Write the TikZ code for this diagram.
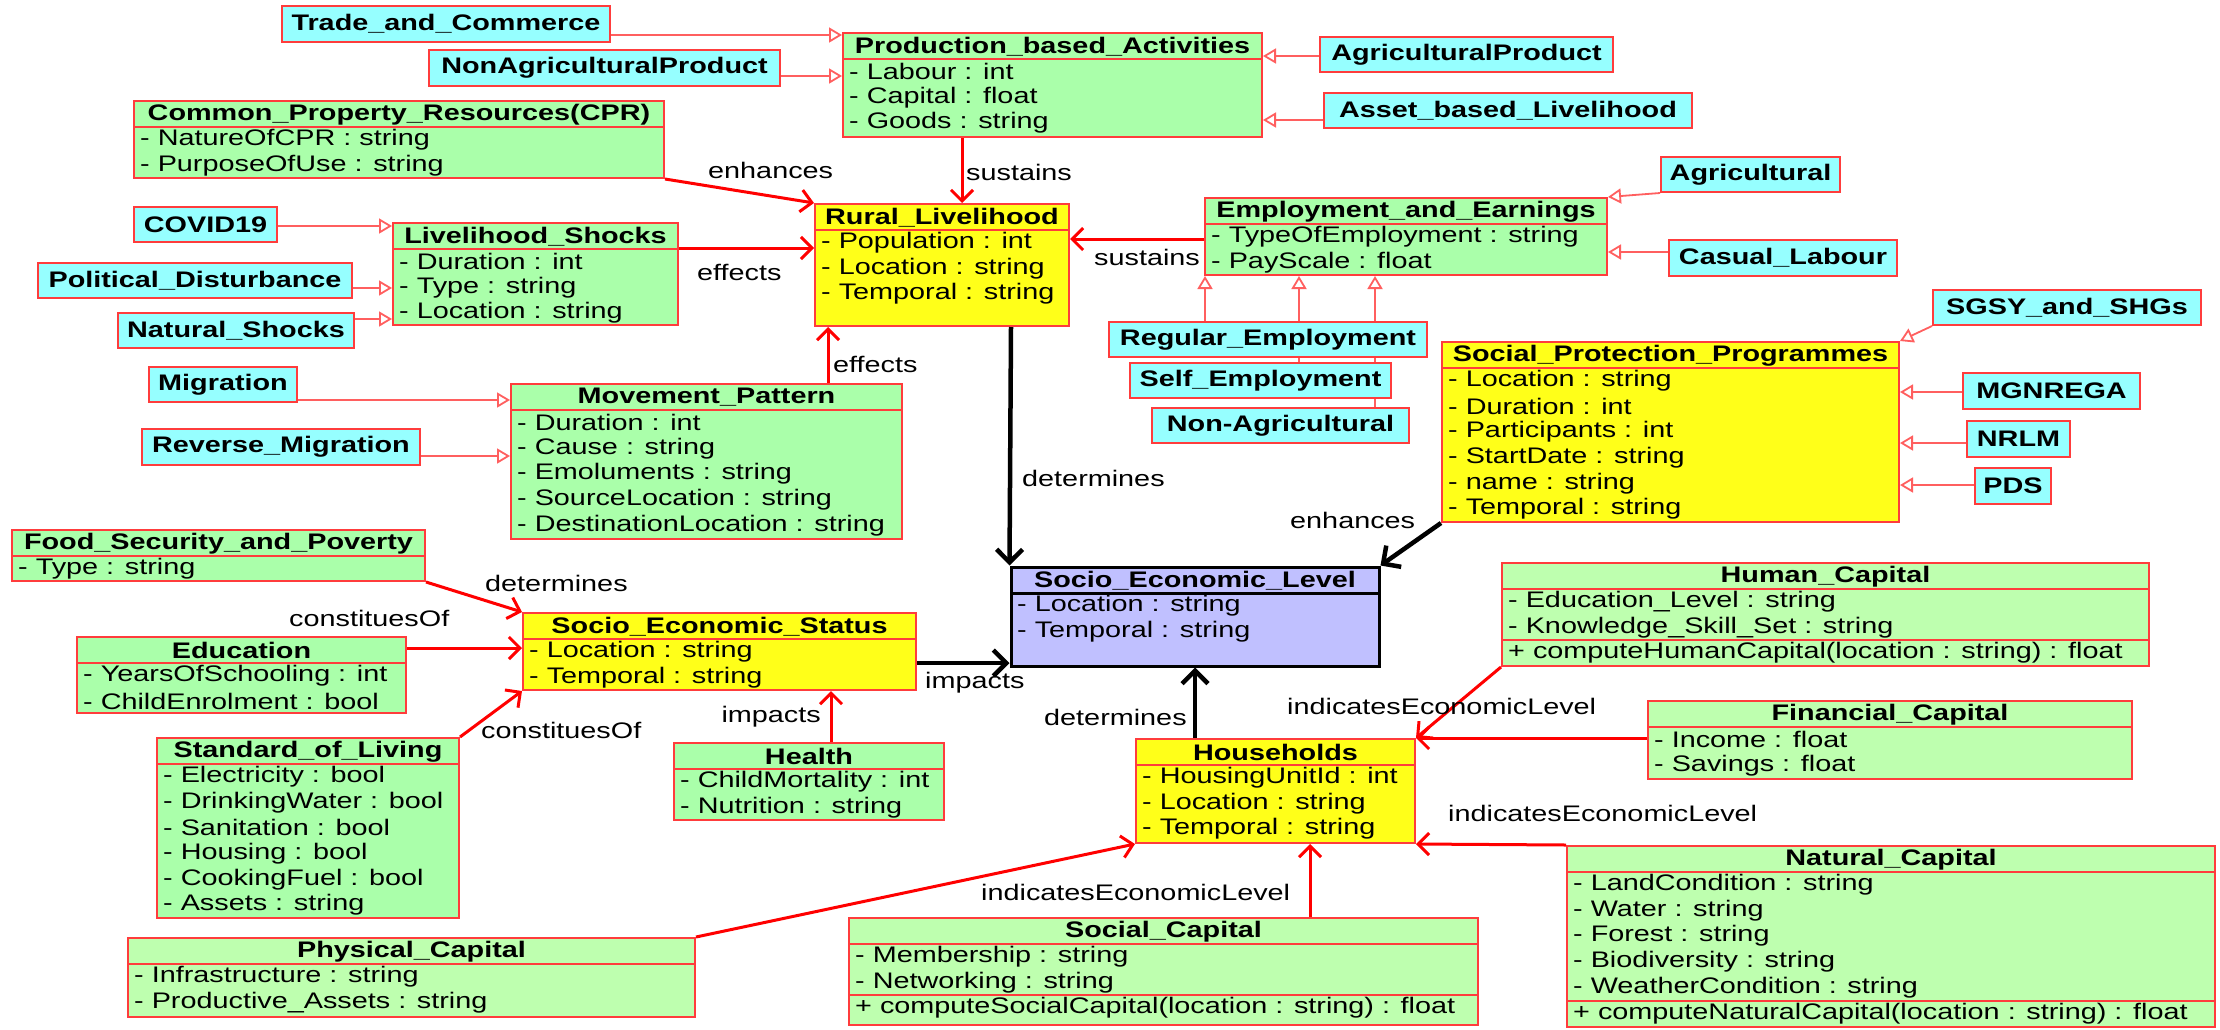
\documentclass[tikz,border=0pt]{standalone}
\usepackage{fontspec}
\setmainfont{Liberation Sans}[FakeStretch=1.28]
\usetikzlibrary{fit,arrows.meta}
\pgfdeclarelayer{paper}
\pgfdeclarelayer{under}
\pgfsetlayers{paper,under,main}

\definecolor{clsgreen}{RGB}{170,255,170}
\definecolor{capgreen}{RGB}{190,255,175}
\definecolor{enumcyan}{RGB}{150,255,255}
\definecolor{clsyellow}{RGB}{255,255,25}
\definecolor{clslav}{RGB}{192,192,255}
\definecolor{boxred}{RGB}{255,60,60}
\definecolor{genred}{RGB}{255,95,95}

\tikzset{
  txt/.style={font=\fontsize{22.5}{25}\selectfont, text=black, inner sep=0pt},
  titletext/.style={txt, font=\fontsize{22.5}{25}\selectfont\bfseries},
  attrtext/.style={txt, anchor=west},
  lbl/.style={txt, anchor=west},
  classbox/.style={draw=boxred, line width=2pt, inner sep=0pt},
  greenclass/.style={classbox, fill=clsgreen},
  capclass/.style={classbox, fill=capgreen},
  yellowclass/.style={classbox, fill=clsyellow},
  levelclass/.style={classbox, draw=black, line width=3pt, fill=clslav},
  enumbox/.style={draw=boxred, line width=2pt, fill=enumcyan, inner sep=0pt,
    font=\fontsize{22.5}{25}\selectfont\bfseries, text=black},
  assoc/.style={draw=red, line width=3pt, -{Straight Barb[length=11pt,width=22pt]}},
  dep/.style={draw=black, line width=4.5pt, -{Straight Barb[length=13pt,width=26pt]}},
  gen/.style={draw=genred, line width=1.8pt, -{Triangle[length=13pt,width=15pt,fill=white]}},
}

% class box: name, style, x1, y1, x2, y2, title
\newcommand\umlclass[7]{%
  \node[#2, fit={(#3,#4) (#5,#6)}] (#1) {};
  \draw[#2, fill=none] (#3,#4+26) -- (#5,#4+26);
  \node[titletext] (#1-title) at ({(#3+#5)/2},{#4+13.5}) {#7};
}
% attribute rows: name, left x, y of header rule, list of rows
\newcommand\umlrows[4]{%
  \foreach \rowtext [count=\rowno] in {#4} {
    \node[attrtext] (#1-\rowno) at ({#2+6},{#3+12.5+25.7*(\rowno-1)}) {\rowtext};
  }
}
% operation compartment: name, style, x1, x2, y of rule, text
\newcommand\umlop[6]{%
  \draw[#2, fill=none] (#3,#5) -- (#4,#5);
  \node[attrtext] (#1-op) at ({#3+6},{#5+13}) {#6};
}
% enumeration-like box: name, x1, y1, x2, y2, text
\newcommand\umlenum[6]{%
  \node[enumbox, minimum width={#4-#2}, minimum height={#5-#3}] (#1) at ({(#2+#4)/2},{(#3+#5)/2}) {#6};
}

\begin{document}
\begin{tikzpicture}[x=1pt,y=-1pt]
\begin{pgfonlayer}{paper}
  \fill[white] (0,0) rectangle (2220,1029);
\end{pgfonlayer}
\useasboundingbox (0,0) rectangle (2220,1029);

% ---------- classes ----------
\umlclass{prod}{greenclass}{843}{33}{1262}{137}{Production\_based\_Activities}
\umlrows{prod}{843}{59}{- Labour : int, - Capital : float, - Goods : string}

\umlclass{cpr}{greenclass}{134}{101}{664}{178}{Common\_Property\_Resources(CPR)}
\umlrows{cpr}{134}{127}{- NatureOfCPR : string, - PurposeOfUse : string}

\umlclass{ls}{greenclass}{393}{223}{678}{325}{Livelihood\_Shocks}
\umlrows{ls}{393}{249}{- Duration : int, - Type : string, - Location : string}

\umlclass{rural}{yellowclass}{815}{204}{1069}{326}{Rural\_Livelihood}
\umlrows{rural}{815}{230}{- Population : int, - Location : string, - Temporal : string}

\umlclass{employment}{greenclass}{1205}{198}{1607}{275}{Employment\_and\_Earnings}
\umlrows{employment}{1205}{224}{- TypeOfEmployment : string, - PayScale : float}

\umlclass{spp}{yellowclass}{1442}{342}{1899}{522}{Social\_Protection\_Programmes}
\umlrows{spp}{1442}{368}{- Location : string, - Duration : int, - Participants : int, - StartDate : string, - name : string, - Temporal : string}

\umlclass{movement}{greenclass}{511}{384}{902}{539}{Movement\_Pattern}
\umlrows{movement}{511}{410}{- Duration : int, - Cause : string, - Emoluments : string, - SourceLocation : string, - DestinationLocation : string}

\umlclass{food}{greenclass}{12}{530}{425}{581}{Food\_Security\_and\_Poverty}
\umlrows{food}{12}{556}{- Type : string}

\umlclass{ses}{yellowclass}{523}{613}{916}{690}{Socio\_Economic\_Status}
\umlrows{ses}{523}{639}{- Location : string, - Temporal : string}

\umlclass{sel}{levelclass}{1011}{567}{1379}{666}{Socio\_Economic\_Level}
\umlrows{sel}{1011}{593}{- Location : string, - Temporal : string}

\umlclass{education}{greenclass}{77}{637}{406}{713}{Education}
\umlrows{education}{77}{663}{- YearsOfSchooling : int, - ChildEnrolment : bool}

\umlclass{sol}{greenclass}{157}{738}{459}{918}{Standard\_of\_Living}
\umlrows{sol}{157}{764}{- Electricity : bool, - DrinkingWater : bool, - Sanitation : bool, - Housing : bool, - CookingFuel : bool, - Assets : string}

\umlclass{health}{greenclass}{674}{743}{944}{820}{Health}
\umlrows{health}{674}{769}{- ChildMortality : int, - Nutrition : string}

\umlclass{households}{yellowclass}{1136}{739}{1415}{843}{Households}
\umlrows{households}{1136}{765}{- HousingUnitId : int, - Location : string, - Temporal : string}

\umlclass{human}{capclass}{1502}{563}{2149}{666}{Human\_Capital}
\umlrows{human}{1502}{589}{- Education\_Level : string, - Knowledge\_Skill\_Set : string}
\umlop{human}{capclass}{1502}{2149}{640}{+ computeHumanCapital(location : string) : float}

\umlclass{financial}{capclass}{1648}{701}{2132}{779}{Financial\_Capital}
\umlrows{financial}{1648}{727}{- Income : float, - Savings : float}

\umlclass{natural}{capclass}{1567}{846}{2215}{1027}{Natural\_Capital}
\umlrows{natural}{1567}{872}{- LandCondition : string, - Water : string, - Forest : string, - Biodiversity : string, - WeatherCondition : string}
\umlop{natural}{capclass}{1567}{2215}{1001}{+ computeNaturalCapital(location : string) : float}

\umlclass{social}{capclass}{849}{918}{1478}{1025}{Social\_Capital}
\umlrows{social}{849}{944}{- Membership : string, - Networking : string}
\umlop{social}{capclass}{849}{1478}{995}{+ computeSocialCapital(location : string) : float}

\umlclass{physical}{capclass}{128}{938}{695}{1017}{Physical\_Capital}
\umlrows{physical}{128}{964}{- Infrastructure : string, - Productive\_Assets : string}

% ---------- specialisations ----------
\umlenum{trade}{282}{6}{610}{42}{Trade\_and\_Commerce}
\umlenum{nonagri}{429}{50}{780}{86}{NonAgriculturalProduct}
\umlenum{agriprod}{1320}{37}{1613}{72}{AgriculturalProduct}
\umlenum{asset}{1324}{93}{1692}{128}{Asset\_based\_Livelihood}
\umlenum{covid}{134}{207}{277}{242}{COVID19}
\umlenum{political}{38}{263}{352}{298}{Political\_Disturbance}
\umlenum{natshock}{118}{313}{354}{348}{Natural\_Shocks}
\umlenum{agricultural}{1661}{157}{1840}{192}{Agricultural}
\umlenum{casual}{1669}{240}{1897}{276}{Casual\_Labour}
\umlenum{sgsy}{1933}{290}{2201}{325}{SGSY\_and\_SHGs}
\umlenum{regular}{1109}{322}{1427}{357}{Regular\_Employment}
\umlenum{selfemp}{1130}{363}{1391}{398}{Self\_Employment}
\umlenum{nonagr}{1152}{408}{1409}{443}{Non-Agricultural}
\umlenum{migration}{149}{367}{297}{402}{Migration}
\umlenum{reverse}{142}{429}{420}{465}{Reverse\_Migration}
\umlenum{mgnrega}{1963}{373}{2140}{409}{MGNREGA}
\umlenum{nrlm}{1967}{421}{2070}{457}{NRLM}
\umlenum{pds}{1975}{468}{2051}{504}{PDS}

% ---------- generalisations ----------
\draw[gen] (trade.east |- 0,35) -- (prod.west |- 0,35);
\draw[gen] (nonagri.east |- 0,76) -- (prod.west |- 0,76);
\draw[gen] (agriprod.west |- 0,56) -- (prod.east |- 0,56);
\draw[gen] (asset.west |- 0,120) -- (prod.east |- 0,120);
\draw[gen] (covid.east |- 0,226) -- (ls.west |- 0,226);
\draw[gen] (political.east |- 0,288) -- (ls.west |- 0,288);
\draw[gen] (natshock.east |- 0,319) -- (ls.west |- 0,319);
\draw[gen] (agricultural.south west) -- (employment.north east);
\draw[gen] (casual.west |- 0,252) -- (employment.east |- 0,252);
\begin{pgfonlayer}{under}
  \draw[gen] (regular.north -| 1205,0) -- (employment.south -| 1205,0);
  \draw[gen] (selfemp.north -| 1299,0) -- (employment.south -| 1299,0);
  \draw[gen] (nonagr.north -| 1375,0) -- (employment.south -| 1375,0);
\end{pgfonlayer}
\draw[gen] (sgsy.south west) -- (spp.north east);
\draw[gen] (mgnrega.west |- 0,392) -- (spp.east |- 0,392);
\draw[gen] (nrlm.west |- 0,443) -- (spp.east |- 0,443);
\draw[gen] (pds.west |- 0,485) -- (spp.east |- 0,485);
\draw[gen] (migration.east |- 0,400) -- (movement.west |- 0,400);
\draw[gen] (reverse.east |- 0,456) -- (movement.west |- 0,456);

% ---------- associations ----------
\draw[assoc] (cpr.south east) -- (rural.north west);
\draw[assoc] (prod.south -| 962,0) -- (rural.north -| 962,0);
\draw[assoc] (ls.east |- 0,248) -- (rural.west |- 0,248);
\draw[assoc] (employment.west |- 0,239) -- (rural.east |- 0,239);
\draw[assoc] (movement.north -| 828,0) -- (rural.south -| 828,0);
\draw[assoc] (food.south east) -- (ses.north west);
\draw[assoc] (education.east |- 0,648) -- (ses.west |- 0,648);
\draw[assoc] (sol.north east) -- (ses.south west);
\draw[assoc] (health.north -| 831,0) -- (ses.south -| 831,0);
\draw[assoc] (physical.north east) -- (households.south west);
\draw[assoc] (social.north -| 1310,0) -- (households.south -| 1310,0);
\draw[assoc] (human.south west) -- (households.north east);
\draw[assoc] (financial.west |- households.north east) -- (households.north east);
\draw[assoc] (natural.north west) -- (households.south east);

\draw[dep] (rural.south -| 1011,0) -- (sel.north west);
\draw[dep] (spp.south west) -- (sel.north east);
\draw[dep] (ses.east |- 0,663) -- (sel.west |- 0,663);
\draw[dep] (households.north -| 1195,0) -- (sel.south -| 1195,0);

% ---------- role names ----------
\node[lbl] (l-enh1) at (708,170) {enhances};
\node[lbl] (l-sus1) at (966,172) {sustains};
\node[lbl] (l-eff1) at (697,272) {effects};
\node[lbl] (l-sus2) at (1094,257) {sustains};
\node[lbl] (l-eff2) at (833,364) {effects};
\node[lbl] (l-det1) at (1022,478) {determines};
\node[lbl] (l-enh2) at (1290,520) {enhances};
\node[lbl] (l-det2) at (485,583) {determines};
\node[lbl] (l-con1) at (289,618) {constituesOf};
\node[lbl] (l-con2) at (481,730) {constituesOf};
\node[lbl] (l-imp1) at (925,683) {impacts};
\node[txt, anchor=east] (l-imp2) at (821,717) {impacts};
\node[lbl] (l-det3) at (1044,717) {determines};
\node[lbl] (l-ind1) at (1287,706) {indicatesEconomicLevel};
\node[lbl] (l-ind2) at (1448,813) {indicatesEconomicLevel};
\node[lbl] (l-ind3) at (981,892) {indicatesEconomicLevel};
\end{tikzpicture}
\end{document}
